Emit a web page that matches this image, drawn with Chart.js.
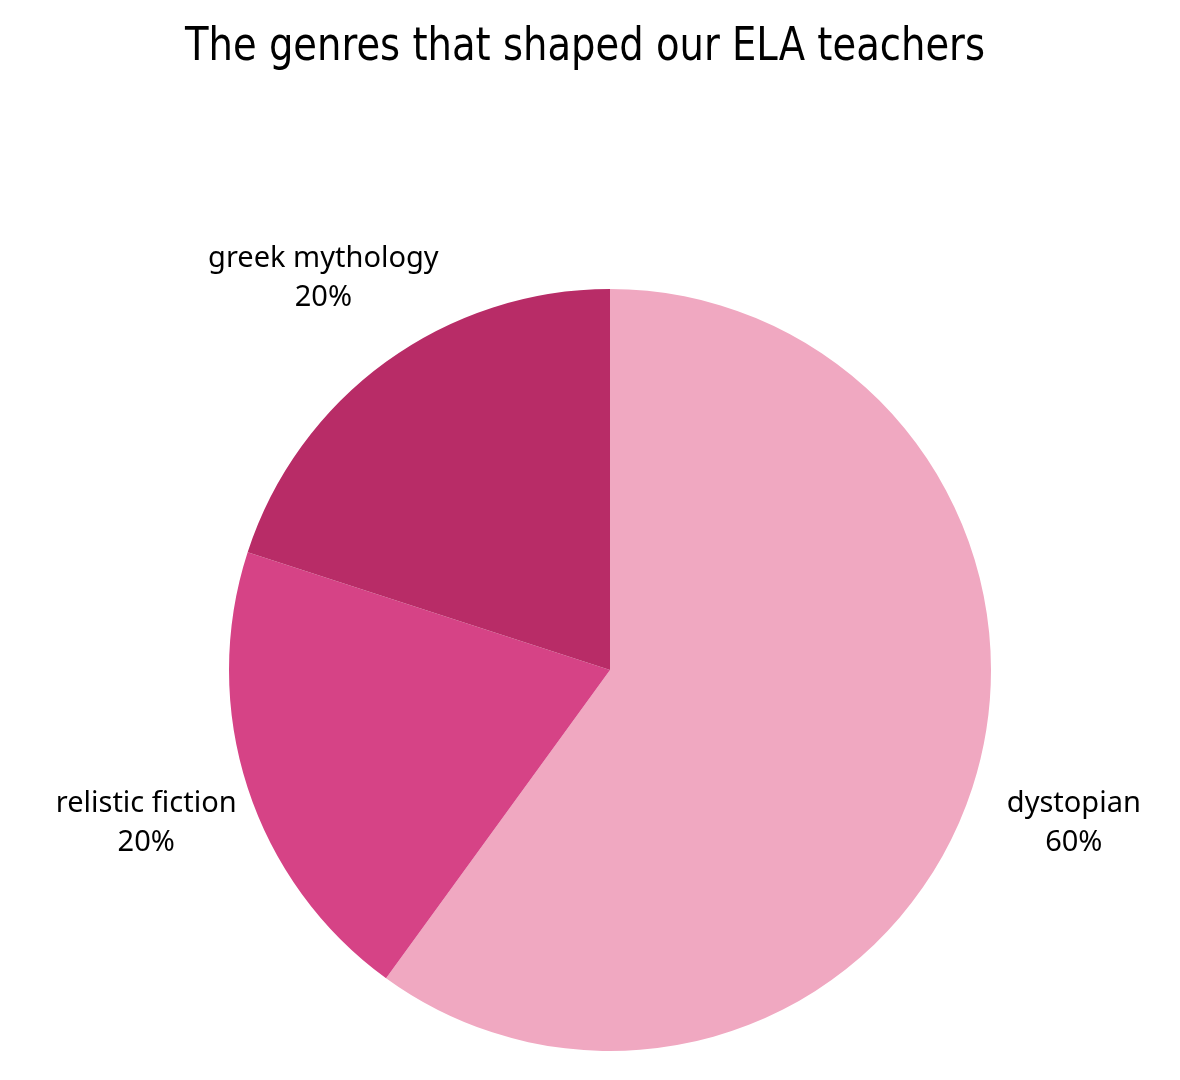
<!DOCTYPE html>
<html>
<head>
<meta charset="utf-8">
<script src="https://cdn.jsdelivr.net/npm/chart.js@4"></script>
<style>
  html, body { margin: 0; padding: 0; background: #fff; }
  #wrap { width: 1180px; height: 1080px; }
</style>
</head>
<body>
<div id="wrap"><canvas id="genreChart"></canvas></div>
<script>
// données
const chartTitle = 'The genres that shaped our ELA teachers';
const genres = ['dystopian', 'relistic fiction', 'greek mythology'];
const shares = [60, 20, 20];
const sliceColors = ['#F0A8C1', '#D64386', '#B82C67'];

// titre + étiquettes hors du camembert
const outsideLabels = {
    id: 'outsideLabels',
    afterDraw(chart) {
        const ctx = chart.ctx;
        ctx.save();
        ctx.fillStyle = '#000';
        ctx.textAlign = 'center';
        ctx.textBaseline = 'middle';
        ctx.font = '46px "Liberation Sans Narrow", "DejaVu Sans Condensed", sans-serif';
        ctx.fillText(chartTitle, 585, 48, 800);

        ctx.font = '29px "Noto Sans", sans-serif';
        const meta = chart.getDatasetMeta(0);
        meta.data.forEach((arc, i) => {
            const mid = (arc.startAngle + arc.endAngle) / 2;
            const r = arc.outerRadius * 1.28;
            const x = arc.x + Math.cos(mid) * r;
            const y = arc.y + Math.sin(mid) * r;
            ctx.fillText(genres[i], x, y - 17);
            ctx.fillText(shares[i] + '%', x, y + 22);
        });
        ctx.restore();
    }
};

new Chart(document.getElementById('genreChart'), {
    type: 'pie',
    data: {
        labels: genres,
        datasets: [{
            data: shares,
            backgroundColor: sliceColors,
            borderWidth: 0
        }]
    },
    options: {
        responsive: true,
        maintainAspectRatio: false,
        animation: false,
        layout: { padding: { top: 289, bottom: 29, left: 40, right: 0 } },
        plugins: {
            legend: { display: false },
            tooltip: { enabled: false },
            title: { display: false }
        }
    },
    plugins: [outsideLabels]
});
</script>
</body>
</html>
